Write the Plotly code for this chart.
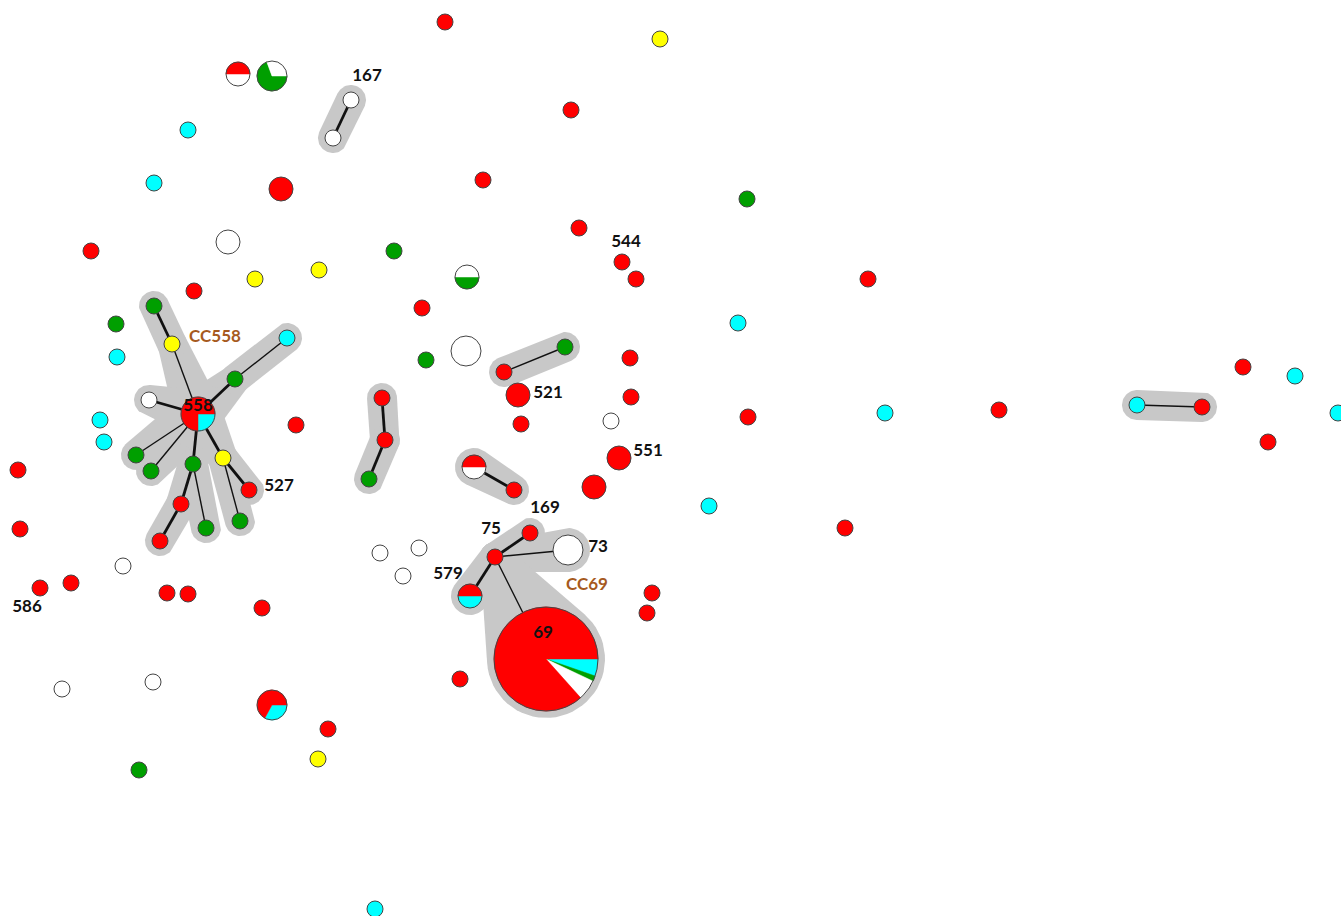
import math
import plotly.graph_objects as go

# ---------------- data ----------------
R, G, C, Y, W = "#ff0000", "#009f00", "#00ffff", "#ffff00", "#ffffff"

# nodes: id -> (x, y, radius, composition [(colour, fraction), ...] starting at 3 o'clock, clockwise)
node_ids = [
    "n1", "n2", "n3", "n4", "n5", "n6", "n7", "n8", "n9", "n10",
    "n11", "n12", "n13", "n14", "n15", "n16", "n17", "n18", "n19", "n20",
    "n21", "n22", "n23", "n24", "n25", "n26", "n27", "n28", "n29", "n30",
    "n31", "n32", "n33", "n34", "n35", "n36", "n37", "n38", "n39", "n40",
    "n41", "n42", "n43", "n44", "n45", "n46", "n47", "n48", "n49", "n50",
    "n51", "n52", "n53", "n54", "n55", "n56", "n57", "n58", "n59", "n60",
    "n61", "n62", "n63", "n64", "n65", "n66", "n67",
    "p167a", "p167b", "pa1", "pa2", "pb1", "pb2", "pb3", "pc1", "pc2", "pd1", "pd2",
    "558", "a", "b", "c", "d", "e", "f", "g", "h", "i", "j", "k", "l", "m", "n",
    "75", "169", "73", "579", "69",
]
node_x = [
    445, 660, 238, 272, 188, 154, 281, 571, 483, 747,
    579, 91, 228, 394, 319, 255, 467, 194, 622, 636,
    868, 422, 738, 116, 117, 426, 466, 630, 518, 631,
    521, 611, 748, 885, 999, 1243, 1295, 1338, 1268, 296,
    100, 104, 18, 20, 619, 594, 709, 845, 380, 419,
    403, 123, 40, 71, 167, 188, 262, 652, 647, 62,
    153, 272, 328, 318, 139, 460, 375,
    351, 333, 504, 565, 382, 385, 369, 474, 514, 1137, 1202,
    198, 172, 154, 235, 287, 149, 136, 151, 193, 181, 160, 206, 223, 249, 240,
    495, 530, 568, 470, 546,
]
node_y = [
    22, 39, 74, 76, 130, 183, 189, 110, 180, 199,
    228, 251, 242, 251, 270, 279, 277, 291, 262, 279,
    279, 308, 323, 324, 357, 360, 351, 358, 395, 397,
    424, 421, 417, 413, 410, 367, 376, 413, 442, 425,
    420, 442, 470, 529, 458, 487, 506, 528, 553, 548,
    576, 566, 588, 583, 593, 594, 608, 593, 613, 689,
    682, 705, 729, 759, 770, 679, 909,
    100, 138, 372, 347, 398, 440, 479, 467, 490, 405, 407,
    414, 344, 306, 379, 338, 400, 455, 471, 464, 504, 541, 528, 458, 490, 521,
    557, 533, 550, 596, 659,
]
node_r = [
    8, 8, 12, 15, 8, 8, 12, 8, 8, 8,
    8, 8, 12, 8, 8, 8, 12, 8, 8, 8,
    8, 8, 8, 8, 8, 8, 15, 8, 12, 8,
    8, 8, 8, 8, 8, 8, 8, 8, 8, 8,
    8, 8, 8, 8, 12, 12, 8, 8, 8, 8,
    8, 8, 8, 8, 8, 8, 8, 8, 8, 8,
    8, 15, 8, 8, 8, 8, 8,
    8, 8, 8, 8, 8, 8, 8, 12, 8, 8, 8,
    17, 8, 8, 8, 8, 8, 8, 8, 8, 8, 8, 8, 8, 8, 8,
    8, 8, 15, 12, 52,
]
node_comp = [
    [(R, 1)], [(Y, 1)], [(W, .5), (R, .5)], [(G, .694), (W, .306)], [(C, 1)], [(C, 1)], [(R, 1)], [(R, 1)], [(R, 1)], [(G, 1)],
    [(R, 1)], [(R, 1)], [(W, 1)], [(G, 1)], [(Y, 1)], [(Y, 1)], [(G, .5), (W, .5)], [(R, 1)], [(R, 1)], [(R, 1)],
    [(R, 1)], [(R, 1)], [(C, 1)], [(G, 1)], [(C, 1)], [(G, 1)], [(W, 1)], [(R, 1)], [(R, 1)], [(R, 1)],
    [(R, 1)], [(W, 1)], [(R, 1)], [(C, 1)], [(R, 1)], [(R, 1)], [(C, 1)], [(C, 1)], [(R, 1)], [(R, 1)],
    [(C, 1)], [(C, 1)], [(R, 1)], [(R, 1)], [(R, 1)], [(R, 1)], [(C, 1)], [(R, 1)], [(W, 1)], [(W, 1)],
    [(W, 1)], [(W, 1)], [(R, 1)], [(R, 1)], [(R, 1)], [(R, 1)], [(R, 1)], [(R, 1)], [(R, 1)], [(W, 1)],
    [(W, 1)], [(C, .33), (R, .67)], [(R, 1)], [(Y, 1)], [(G, 1)], [(R, 1)], [(C, 1)],
    [(W, 1)], [(W, 1)], [(R, 1)], [(G, 1)], [(R, 1)], [(R, 1)], [(G, 1)], [(W, .5), (R, .5)], [(R, 1)], [(C, 1)], [(R, 1)],
    [(C, .25), (R, .75)], [(Y, 1)], [(G, 1)], [(G, 1)], [(C, 1)], [(W, 1)], [(G, 1)], [(G, 1)], [(G, 1)], [(R, 1)], [(R, 1)], [(G, 1)], [(Y, 1)], [(R, 1)], [(G, 1)],
    [(R, 1)], [(R, 1)], [(W, 1)], [(C, .5), (R, .5)], [(C, .053), (G, .017), (W, .064), (R, .866)],
]

# edges: (from, to, thick?)
edge_from = ["p167a", "pa1", "pb1", "pb2", "pc1", "pd1",
             "558", "a", "558", "c", "558", "558", "558", "558", "h", "i", "h", "558", "l", "l",
             "75", "75", "75", "75"]
edge_to = ["p167b", "pa2", "pb2", "pb3", "pc2", "pd2",
           "a", "b", "c", "d", "e", "f", "g", "h", "i", "j", "k", "l", "m", "n",
           "169", "73", "579", "69"]
edge_thick = [1, 0, 1, 1, 1, 0,
              0, 1, 1, 0, 1, 0, 0, 1, 1, 1, 0, 1, 1, 0,
              1, 0, 1, 0]

# hubs whose halo is filled between branches (hub id, reach along branches)
hub_ids = ["558"]
hub_reach = [36]

# labels
label_text = ["167", "544", "521", "551", "527", "169", "75", "73", "579", "69", "586", "558", "CC558", "CC69"]
label_x = [367, 626, 548, 648, 279, 545, 491, 598, 448, 543, 27, 198, 215, 587]
label_y = [77, 243, 394, 452, 487, 509, 530, 548, 575, 634, 608, 407, 338, 586]
label_col = ["#111"] * 12 + ["#a65a1e", "#a65a1e"]

# ---------------- helpers ----------------
idx = {k: i for i, k in enumerate(node_ids)}
HALO_PAD = 7
HALO_COL = "#c8c8c8"


def hull2(c1, r1, c2, r2, n=40):
    dx, dy = c2[0] - c1[0], c2[1] - c1[1]
    d = math.hypot(dx, dy)
    th = math.atan2(dy, dx)
    a = math.acos(max(-1, min(1, (r1 - r2) / d)))
    xs, ys = [], []
    for k in range(n + 1):
        t = th + a + (2 * math.pi - 2 * a) * k / n
        xs.append(c1[0] + r1 * math.cos(t)); ys.append(c1[1] + r1 * math.sin(t))
    for k in range(n + 1):
        t = th - a + 2 * a * k / n
        xs.append(c2[0] + r2 * math.cos(t)); ys.append(c2[1] + r2 * math.sin(t))
    xs.append(xs[0]); ys.append(ys[0])
    return xs, ys


def wedge(cx, cy, r, a0, a1):
    n = max(4, int(abs(a1 - a0) / 4))
    xs, ys = [cx], [cy]
    for k in range(n + 1):
        t = math.radians(a0 + (a1 - a0) * k / n)
        xs.append(cx + r * math.cos(t)); ys.append(cy + r * math.sin(t))
    xs.append(cx); ys.append(cy)
    return xs, ys


fig = go.Figure()

def add_fill(xs, ys, col):
    fig.add_trace(go.Scatter(x=xs, y=ys, mode="lines", fill="toself", fillcolor=col,
                             line=dict(width=0, color=col), hoverinfo="skip", showlegend=False))

# halos
for f, t in zip(edge_from, edge_to):
    i, j = idx[f], idx[t]
    xs, ys = hull2((node_x[i], node_y[i]), node_r[i] + HALO_PAD,
                   (node_x[j], node_y[j]), node_r[j] + HALO_PAD)
    add_fill(xs, ys, HALO_COL)

# hub junction fills (between adjacent branches)
for hub, reach in zip(hub_ids, hub_reach):
    h = idx[hub]
    nbrs = [idx[t] for f, t in zip(edge_from, edge_to) if f == hub] + \
           [idx[f] for f, t in zip(edge_from, edge_to) if t == hub]
    angs = sorted(math.atan2(node_y[j] - node_y[h], node_x[j] - node_x[h]) for j in nbrs)
    xs, ys = [], []
    for a in angs:
        xs.append(node_x[h] + reach * math.cos(a)); ys.append(node_y[h] + reach * math.sin(a))
    xs.append(xs[0]); ys.append(ys[0])
    add_fill(xs, ys, HALO_COL)

# edges
for thick, w in [(0, 1.4), (1, 2.8)]:
    xs, ys = [], []
    for f, t, th in zip(edge_from, edge_to, edge_thick):
        if th == thick:
            i, j = idx[f], idx[t]
            xs += [node_x[i], node_x[j], None]
            ys += [node_y[i], node_y[j], None]
    fig.add_trace(go.Scatter(x=xs, y=ys, mode="lines", line=dict(color="#111", width=w),
                             hoverinfo="skip", showlegend=False))

# single-colour nodes
for col in [R, G, C, Y, W]:
    sel = [i for i in range(len(node_ids)) if len(node_comp[i]) == 1 and node_comp[i][0][0] == col]
    fig.add_trace(go.Scatter(
        x=[node_x[i] for i in sel], y=[node_y[i] for i in sel], mode="markers", cliponaxis=False,
        marker=dict(size=[2 * node_r[i] for i in sel], color=col, opacity=1,
                    line=dict(color="#444", width=1)),
        hoverinfo="skip", showlegend=False))

# pie nodes
pies = [i for i in range(len(node_ids)) if len(node_comp[i]) > 1]
for i in pies:
    a = 0.0
    for col, frac in node_comp[i]:
        xs, ys = wedge(node_x[i], node_y[i], node_r[i], a, a + 360 * frac)
        fig.add_trace(go.Scatter(x=xs, y=ys, mode="lines", fill="toself", fillcolor=col,
                                 line=dict(width=0.5, color=col), hoverinfo="skip", showlegend=False))
        a += 360 * frac
fig.add_trace(go.Scatter(
    x=[node_x[i] for i in pies], y=[node_y[i] for i in pies], mode="markers",
    marker=dict(size=[2 * node_r[i] for i in pies], color="rgba(0,0,0,0)", opacity=1,
                line=dict(color="#444", width=1)),
    hoverinfo="skip", showlegend=False))

# labels
fig.add_trace(go.Scatter(
    x=label_x, y=label_y, mode="text", text=[f"<b>{t}</b>" for t in label_text],
    textfont=dict(family="Lato", size=17, color=label_col), textposition="middle center",
    hoverinfo="skip", showlegend=False))

fig.update_layout(
    width=1341, height=916, margin=dict(l=0, r=0, t=0, b=0),
    paper_bgcolor="white", plot_bgcolor="white",
    xaxis=dict(range=[0, 1341], visible=False, fixedrange=True),
    yaxis=dict(range=[916, 0], visible=False, fixedrange=True),
)
fig.write_html("out.html")
